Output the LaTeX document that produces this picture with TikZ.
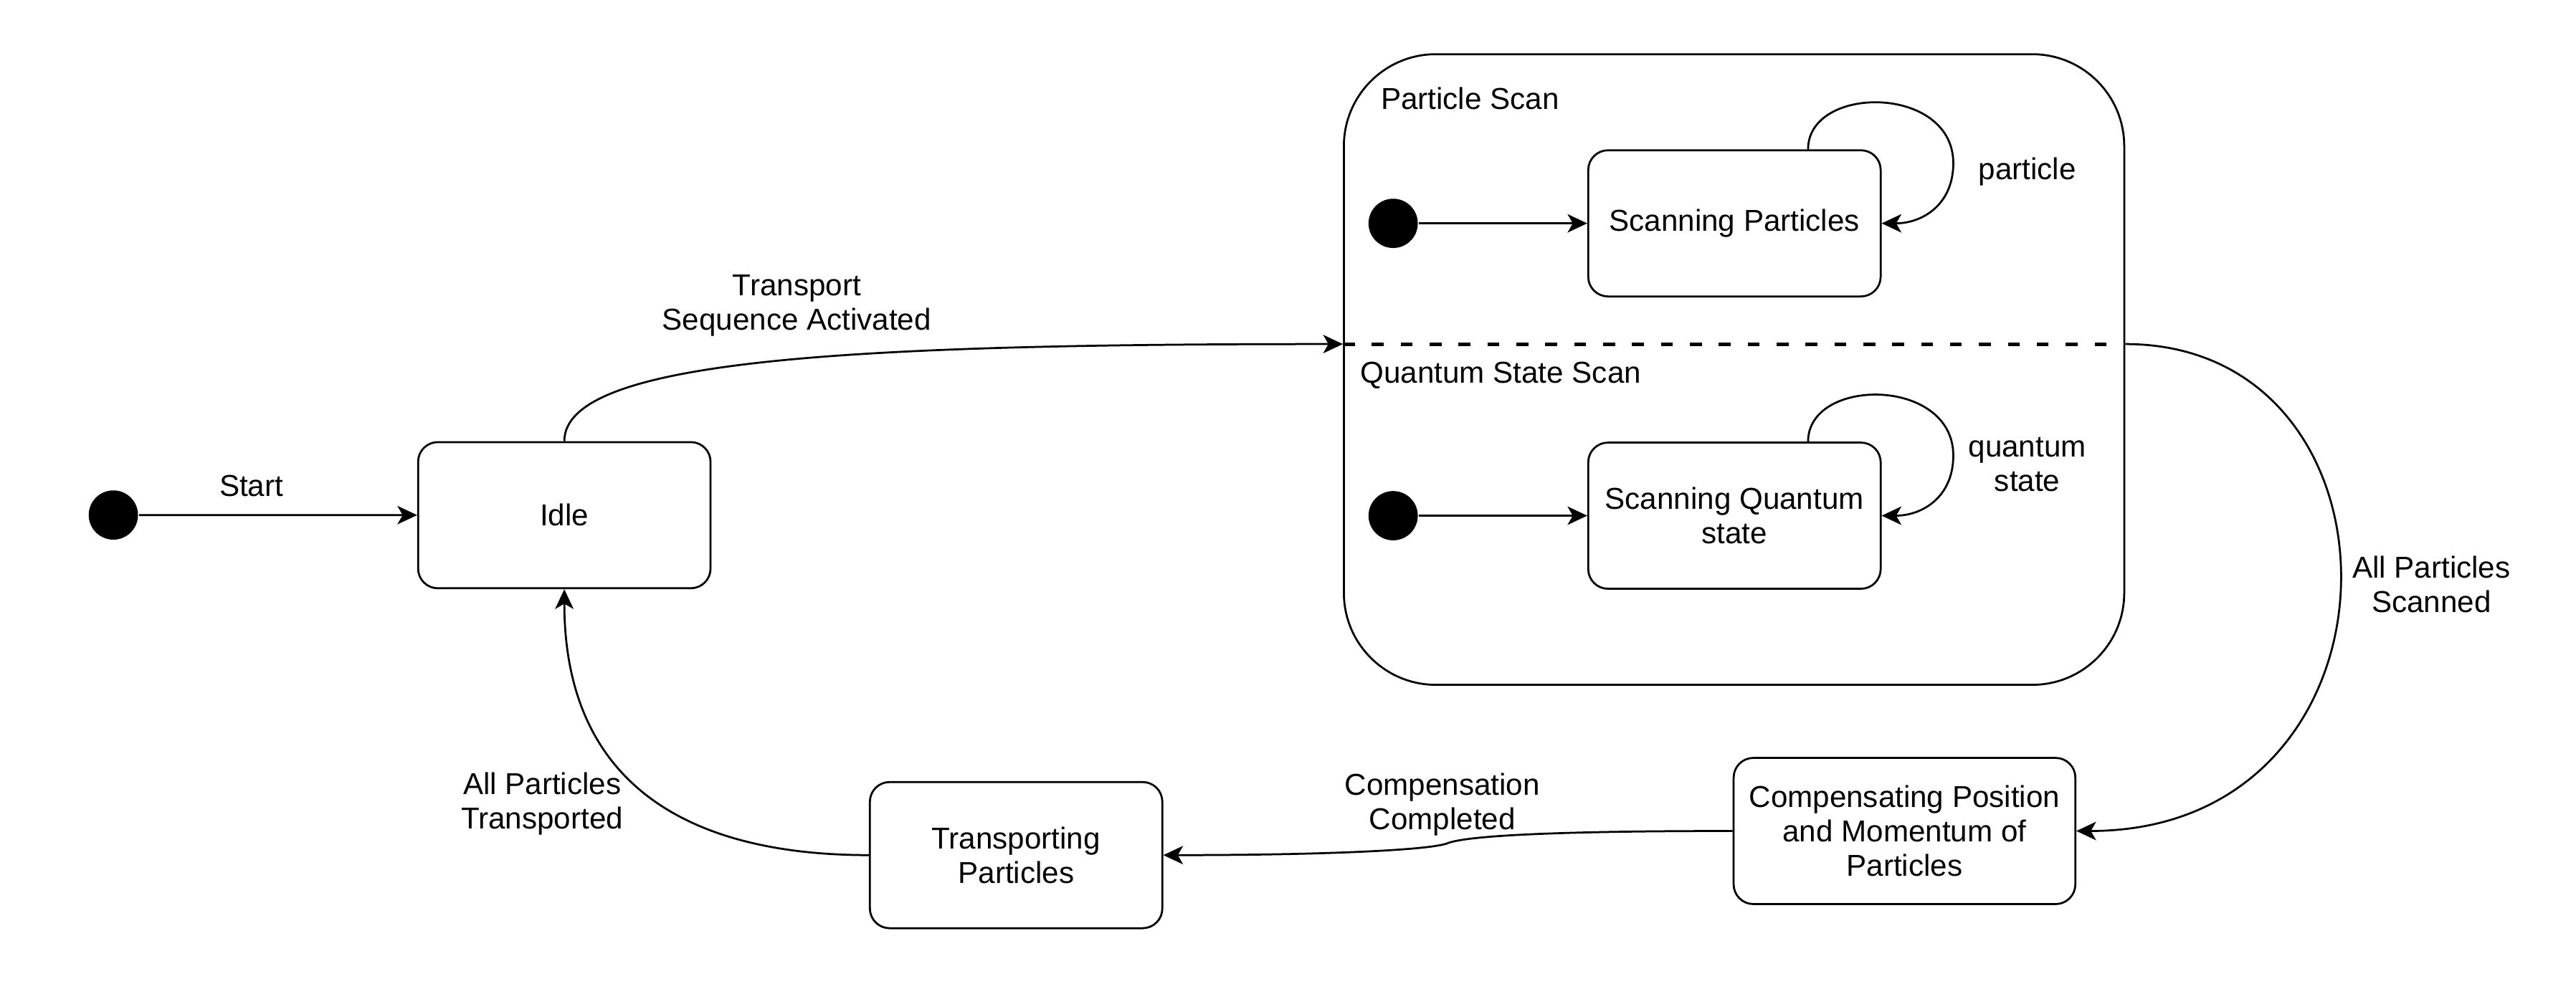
\documentclass[tikz,border=0pt]{standalone}
\usepackage{fontspec}
\setmainfont{Liberation Sans}
\usetikzlibrary{arrows.meta,positioning}
\tikzset{
 statebox/.style={draw,rounded corners=6pt,minimum width=89pt,minimum height=44.5pt,align=center,inner sep=2pt},
 startdot/.style={circle,fill=black,minimum size=15pt,inner sep=0pt},
 edgelabel/.style={align=center,inner sep=0pt},
 region/.style={anchor=west,inner sep=0pt}
}
\begin{document}
\begin{tikzpicture}[x=0.5pt,y=-0.5pt,>={Stealth[length=6pt,width=5.6pt,inset=1.6pt]},line width=0.6pt,font=\fontsize{9.2pt}{10.5pt}\selectfont]
 \useasboundingbox (0,0) rectangle (1568,602);
 % composite state
 \node[draw,rounded corners=28pt,minimum width=237.5pt,minimum height=192pt] (scan) at (1055.5,225) {};
 \coordinate (dashL) at (scan.west |- 0,209.5);
 \coordinate (dashR) at (scan.east |- 0,209.5);
 \draw[line width=1.1pt,dash pattern=on 3.6pt off 5.2pt] (dashL) -- (dashR);
 \node[region] (pscan) at (840,60) {Particle Scan};
 \node[region] (qscan) at (827.5,228.5) {Quantum State Scan};
 % states
 \node[startdot] (s0) at (69,313.6) {};
 \node[statebox] (idle) at (343.5,313.7) {Idle};
 \node[startdot] (s1) at (848,136) {};
 \node[statebox] (sp) at (1055.75,136) {Scanning Particles};
 \node[startdot] (s2) at (848,314) {};
 \node[statebox] (sq) at (1055.75,314) {Scanning Quantum\\state};
 \node[statebox,minimum width=104pt] (comp) at (1159.25,506) {Compensating Position\\and Momentum of\\Particles};
 \node[statebox] (trans) at (618.5,520.7) {Transporting\\Particles};
 % transitions
 \draw[->] (s0) -- (idle);
 \draw[->] (s1) -- (sp);
 \draw[->] (s2) -- (sq);
 \foreach \s in {sp,sq}
  \draw[->] ([xshift=22.4pt]\s.north) .. controls +(0,-39.5) and +(0,-48) .. ++(88.4,8.5) .. controls +(0,25) and +(25,0) .. (\s.east);
 \draw[->] (idle.north) .. controls +(0,-50) and +(-300,0) .. (dashL);
 \draw[->] (dashR) .. controls +(179,0) and +(208,0) .. (comp.east);
 \coordinate (kink) at (881,513.5);
 \draw[->] (comp.west) .. controls +(-120,0) and +(10,-4) .. (kink) .. controls +(-10,4) and +(100,0) .. (trans.east);
 \draw[->] (trans.west) .. controls +(-115,0) and +(0,115) .. (idle.south);
 % labels
 \node[edgelabel] (lst) at (153,296) {Start};
 \node[edgelabel] (ltr) at (485,186) {Transport\\Sequence Activated};
 \node[edgelabel] (lp) at (1234,104.7) {particle};
 \node[edgelabel] (lq) at (1234,283) {quantum\\state};
 \node[edgelabel] (las) at (1480,356) {All Particles\\Scanned};
 \node[edgelabel] (lcc) at (878,490) {Compensation\\Completed};
 \node[edgelabel] (lat) at (330,489.5) {All Particles\\Transported};
\end{tikzpicture}
\end{document}
